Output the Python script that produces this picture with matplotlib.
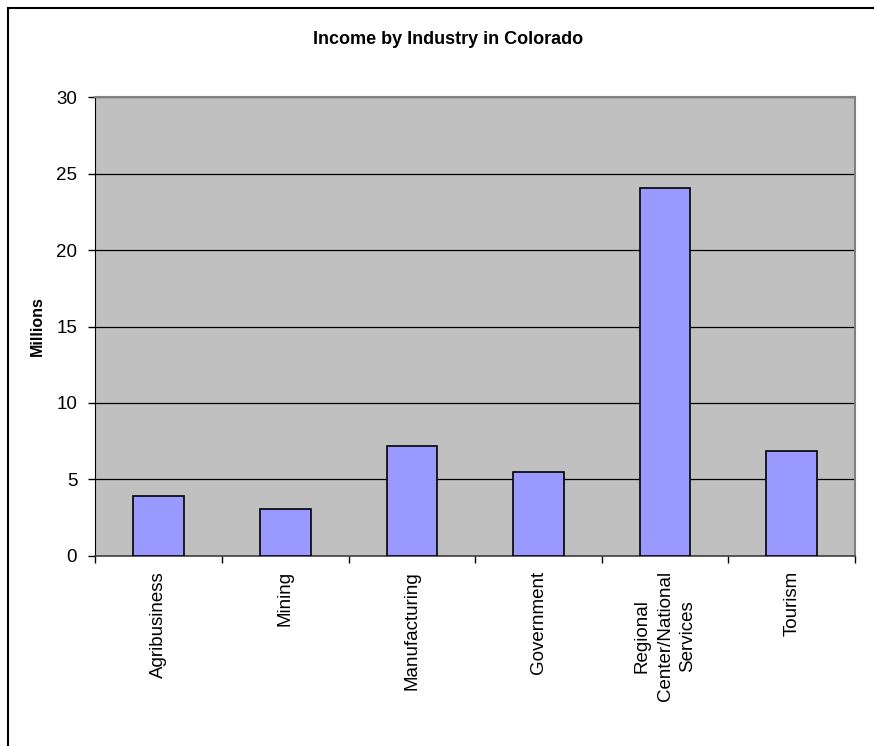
import matplotlib.pyplot as plt
import numpy as np
from matplotlib.patches import Rectangle

# Datos: ingresos por industria (millones)
industrias = ['Agribusiness', 'Mining', 'Manufacturing', 'Government',
              'Regional\nCenter/National\nServices', 'Tourism']
ingresos = [3.9, 3.08, 7.15, 5.5, 24.08, 6.85]

plt.rcParams['font.family'] = ['Liberation Sans', 'DejaVu Sans']

fig = plt.figure(figsize=(8.74, 7.46), dpi=100)

# marco del gráfico (solo se ven los lados superior e izquierdo)
fig.patches.append(Rectangle((8 / 874, -0.1), 1.2, 1 - 8 / 746 + 0.1,
                             transform=fig.transFigure, fill=False,
                             edgecolor='black', linewidth=1.5))

ax = fig.add_axes([95.3 / 874, 1 - 555.7 / 746, 759.7 / 874, 458.4 / 746])
ax.set_facecolor('#C0C0C0')

x = np.arange(len(industrias))
ax.bar(x, ingresos, width=0.4, color='#9999FF', edgecolor='black',
       linewidth=1.2, zorder=3)

ax.set_xlim(-0.5, len(industrias) - 0.5)
ax.set_ylim(0, 30)
ax.set_yticks(np.arange(0, 31, 5))
ax.yaxis.grid(True, color='black', linewidth=0.9, zorder=1)
ax.set_axisbelow(True)

# etiquetas en el centro, marcas en los límites de cada categoría
ax.set_xticks(x)
ax.set_xticklabels(industrias, rotation=90, va='top', ha='center',
                   multialignment='center', fontsize=13.5, linespacing=1.45)
ax.tick_params(axis='x', which='major', length=0, pad=11)
ax.set_xticks(np.arange(-0.5, len(industrias) + 0.5, 1), minor=True)
ax.tick_params(axis='x', which='minor', length=5, width=1, direction='out',
               color='black')
ax.tick_params(axis='y', length=5, width=1, direction='out', labelsize=13.5,
               pad=8, color='black')

for lado in ['top', 'right']:
    ax.spines[lado].set_color('#808080')
    ax.spines[lado].set_linewidth(1.5)
ax.spines['left'].set_color('black')
ax.spines['bottom'].set_color('#404040')
ax.spines['bottom'].set_linewidth(1.2)

ax.set_ylabel('Millions', fontsize=11.5, fontweight='bold', labelpad=8)
fig.text(448 / 874, 1 - 40 / 746, 'Income by Industry in Colorado',
         ha='center', va='center', fontsize=13, fontweight='bold')

fig.savefig('out.png', dpi=100)
